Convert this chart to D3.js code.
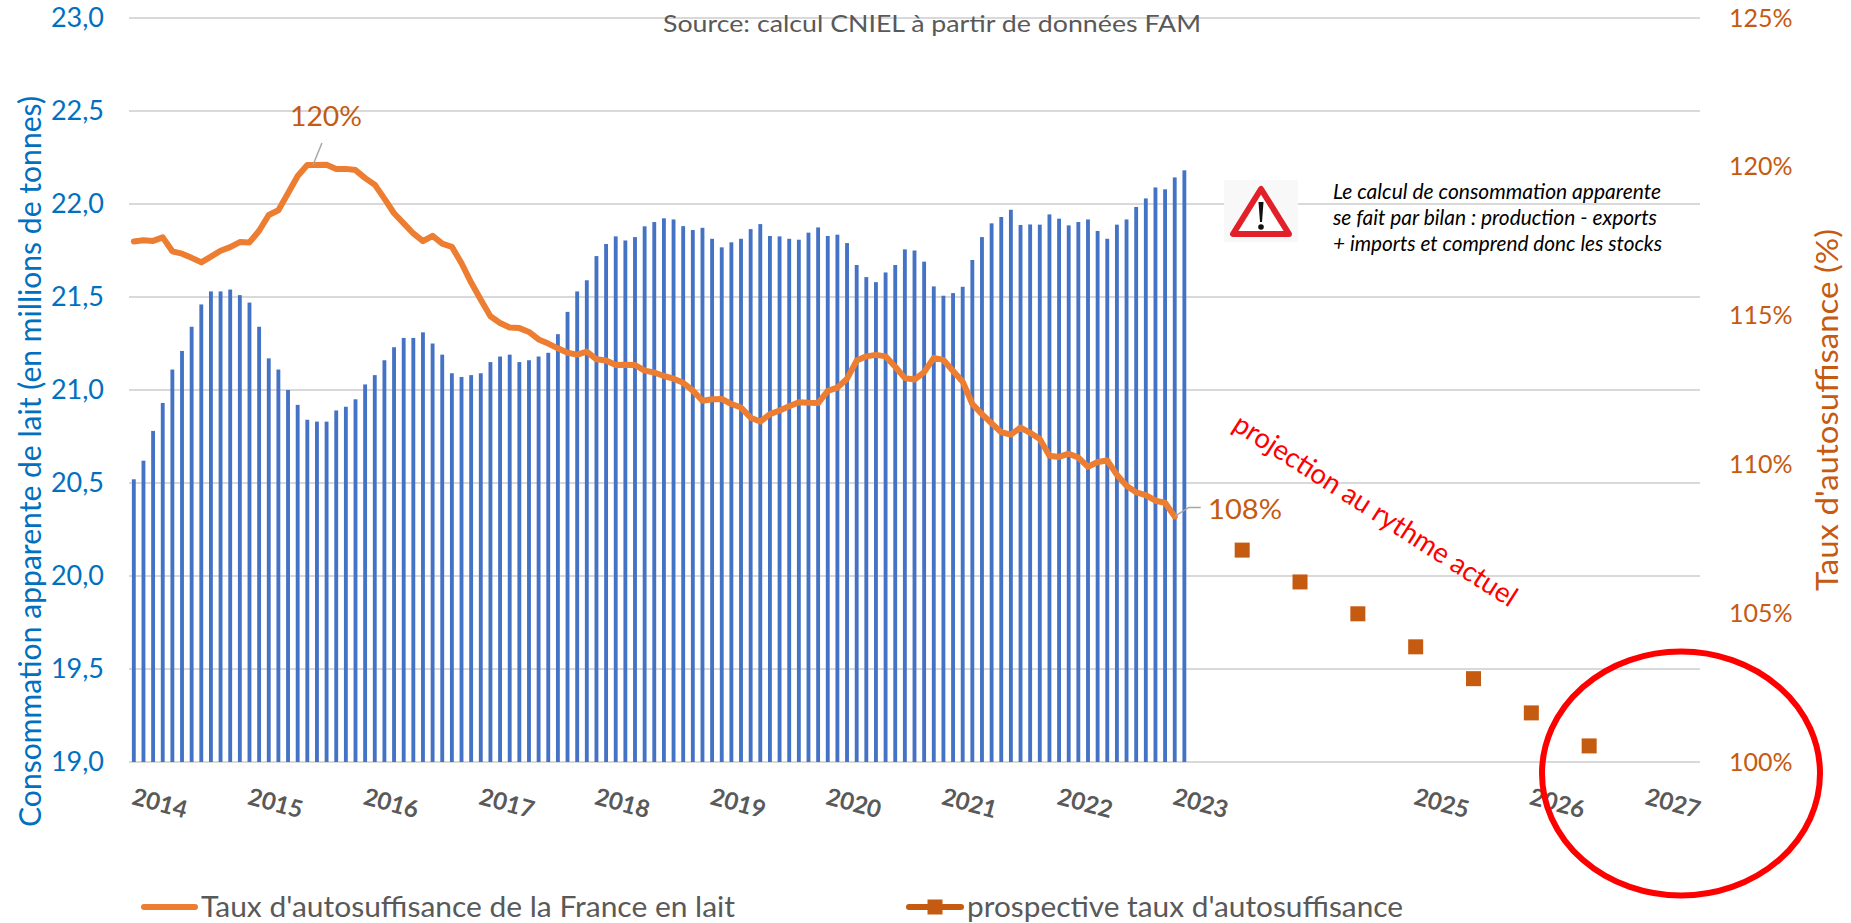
<!DOCTYPE html>
<html>
<head>
<meta charset="utf-8">
<script src="https://cdn.jsdelivr.net/npm/d3@7"></script>
<style>
  body { margin: 0; background: #fff; }
  svg { display: block; font-family: Lato, "Open Sans", sans-serif; }
</style>
</head>
<body>
<svg class="chart"></svg>
<script>
// consommation apparente, millions de tonnes (cumul mobile, un point par mois depuis 2014)
const consommation = [
  20.52, 20.62, 20.78, 20.93, 21.11, 21.21, 21.34, 21.46, 21.53, 21.53,
  21.54, 21.51, 21.47, 21.34, 21.17, 21.11, 21.00, 20.92, 20.84, 20.83,
  20.83, 20.89, 20.91, 20.95, 21.03, 21.08, 21.16, 21.23, 21.28, 21.28,
  21.31, 21.25, 21.19, 21.09, 21.07, 21.08, 21.09, 21.15, 21.18, 21.19,
  21.15, 21.16, 21.18, 21.20, 21.30, 21.42, 21.53, 21.59, 21.72, 21.785,
  21.826, 21.804, 21.822, 21.88, 21.903, 21.923, 21.917, 21.881, 21.86, 21.872,
  21.813, 21.767, 21.794, 21.813, 21.865, 21.892, 21.828, 21.826, 21.813, 21.808,
  21.846, 21.874, 21.828, 21.835, 21.79, 21.672, 21.607, 21.58, 21.632, 21.672,
  21.756, 21.75, 21.69, 21.557, 21.507, 21.521, 21.555, 21.699, 21.822, 21.896,
  21.93, 21.969, 21.887, 21.89, 21.889, 21.944, 21.921, 21.885, 21.903, 21.917,
  21.855, 21.813, 21.889, 21.917, 21.984, 22.03, 22.089, 22.079, 22.143, 22.181
];

// taux d'autosuffisance, %
const autosuffisance = [
  117.49, 117.53, 117.51, 117.63, 117.16, 117.08, 116.94, 116.79, 116.98, 117.18,
  117.30, 117.47, 117.46, 117.85, 118.38, 118.54, 119.11, 119.69, 120.06, 120.06,
  120.07, 119.93, 119.93, 119.89, 119.62, 119.40, 118.93, 118.44, 118.10, 117.76,
  117.50, 117.68, 117.42, 117.31, 116.76, 116.11, 115.53, 114.98, 114.75, 114.60,
  114.58, 114.45, 114.20, 114.06, 113.90, 113.75, 113.69, 113.79, 113.53, 113.49,
  113.34, 113.35, 113.34, 113.15, 113.09, 112.97, 112.88, 112.74, 112.48, 112.14,
  112.19, 112.20, 112.03, 111.91, 111.57, 111.44, 111.69, 111.81, 111.95, 112.09,
  112.07, 112.06, 112.47, 112.58, 112.88, 113.49, 113.63, 113.68, 113.63, 113.28,
  112.90, 112.85, 113.10, 113.58, 113.51, 113.14, 112.78, 112.03, 111.69, 111.38,
  111.08, 111.00, 111.24, 111.06, 110.85, 110.29, 110.25, 110.36, 110.23, 109.92,
  110.08, 110.13, 109.65, 109.28, 109.06, 108.97, 108.78, 108.71, 108.25
];

// projection : un point tous les 6 mois
const projectionMonths = [115, 121, 127, 133, 139, 145, 151];
const projectionValues = [107.12, 106.05, 104.98, 103.87, 102.8, 101.65, 100.54];

const yearLabels = ['2014', '2015', '2016', '2017', '2018', '2019', '2020', '2021', '2022', '2023', '2025', '2026', '2027'];
const yearMonths = [0, 12, 24, 36, 48, 60, 72, 84, 96, 108, 133, 145, 157];
const leftTicks = [19, 19.5, 20, 20.5, 21, 21.5, 22, 22.5, 23];
const rightTicks = [100, 105, 110, 115, 120, 125];
const noteLines = [
  'Le calcul de consommation apparente',
  'se fait par bilan : production - exports',
  '+ imports et comprend donc les stocks'
];

const width = 1851;
const height = 923;
const margin = {top: 18, right: 151, bottom: 161, left: 129};
const monthCount = 163;

const barBlue = '#4472C4';
const lineOrange = '#ED7D31';
const darkOrange = '#C55A11';
const axisBlue = '#0070C0';
const grey = '#595959';

const x = d3.scaleBand()
  .domain(d3.range(monthCount))
  .range([margin.left, width - margin.right])
  .paddingInner(0.6)
  .paddingOuter(0.3);
const xMid = (i) => x(i) + x.bandwidth() / 2;

const yLeft = d3.scaleLinear()
  .domain([19, 23])
  .range([height - margin.bottom, margin.top]);
const yRight = d3.scaleLinear()
  .domain([100, 125])
  .range([height - margin.bottom, margin.top]);

const svg = d3.select('.chart')
  .attr('width', width)
  .attr('height', height);

// grid
svg.append('g')
  .selectAll('line')
  .data(leftTicks)
  .join('line')
  .attr('x1', margin.left)
  .attr('x2', width - margin.right)
  .attr('y1', (d) => yLeft(d))
  .attr('y2', (d) => yLeft(d))
  .attr('stroke', '#D9D9D9')
  .attr('stroke-width', 1.8);

// axes
const xAxis = d3.axisBottom(x)
  .tickValues(yearMonths)
  .tickFormat((d) => yearLabels[yearMonths.indexOf(d)])
  .tickSize(0)
  .tickPadding(0);

const xG = svg.append('g')
  .attr('transform', 'translate(0,' + (height - margin.bottom) + ')')
  .call(xAxis);
xG.select('.domain').remove();
xG.selectAll('text')
  .attr('y', 0)
  .attr('dy', 0)
  .attr('text-anchor', 'start')
  .attr('transform', 'translate(-3,42) rotate(15)')
  .attr('font-family', 'Lato')
  .attr('font-size', 24)
  .attr('font-weight', 700)
  .attr('fill', grey);

const leftG = svg.append('g')
  .attr('transform', 'translate(' + margin.left + ',0)')
  .call(d3.axisLeft(yLeft)
    .tickValues(leftTicks)
    .tickFormat((d) => d.toFixed(1).replace('.', ','))
    .tickSize(0)
    .tickPadding(25));
leftG.select('.domain').remove();
leftG.selectAll('text')
  .attr('font-family', 'Lato')
  .attr('font-size', 27)
  .attr('fill', axisBlue);

const rightG = svg.append('g')
  .attr('transform', 'translate(' + (width - margin.right) + ',0)')
  .call(d3.axisRight(yRight)
    .tickValues(rightTicks)
    .tickFormat((d) => d + '%')
    .tickSize(0)
    .tickPadding(29));
rightG.select('.domain').remove();
rightG.selectAll('text')
  .attr('font-family', 'Lato')
  .attr('font-size', 25)
  .attr('fill', darkOrange);

// bars
svg.append('g')
  .selectAll('rect')
  .data(consommation)
  .join('rect')
  .attr('x', (d, i) => x(i))
  .attr('y', (d) => yLeft(d))
  .attr('width', x.bandwidth())
  .attr('height', (d) => yLeft(19) - yLeft(d))
  .attr('fill', barBlue);

// taux d'autosuffisance
const line = d3.line()
  .x((d, i) => xMid(i))
  .y((d) => yRight(d));

svg.append('path')
  .datum(autosuffisance)
  .attr('fill', 'none')
  .attr('stroke', lineOrange)
  .attr('stroke-width', 6)
  .attr('stroke-linejoin', 'round')
  .attr('stroke-linecap', 'round')
  .attr('d', line);

// projection
svg.append('g')
  .selectAll('rect')
  .data(projectionValues)
  .join('rect')
  .attr('x', (d, i) => xMid(projectionMonths[i]) - 7.5)
  .attr('y', (d) => yRight(d) - 7.5)
  .attr('width', 15)
  .attr('height', 15)
  .attr('fill', darkOrange);

// helper for one line of text squeezed to the width of the original
const label = (txt, px, py, size, color, fit) => {
  const t = svg.append('text')
    .attr('x', px)
    .attr('y', py)
    .attr('font-size', size)
    .attr('fill', color)
    .text(txt);
  if (fit) t.attr('textLength', fit).attr('lengthAdjust', 'spacingAndGlyphs');
  return t;
};

label('Source: calcul CNIEL à partir de données FAM', 663, 32, 24, grey, 538);

// axis titles
label('Consommation apparente de lait (en millions de tonnes)', 0, 0, 31, axisBlue, 731)
  .attr('transform', 'translate(41,827) rotate(-90)');
label("Taux d'autosuffisance (%)", 0, 0, 31, darkOrange, 362)
  .attr('transform', 'translate(1838,591) rotate(-90)');

// data labels with their leaders
const peak = 19;
const last = 108;
svg.append('path')
  .attr('fill', 'none')
  .attr('stroke', '#A6A6A6')
  .attr('stroke-width', 1.5)
  .attr('d', 'M' + (xMid(peak) - 4) + ',' + yRight(autosuffisance[peak]) + 'l9,-22');
svg.append('path')
  .attr('fill', 'none')
  .attr('stroke', '#A6A6A6')
  .attr('stroke-width', 1.5)
  .attr('d', 'M' + xMid(last) + ',' + yRight(autosuffisance[last]) + 'l14,-9h12');
label('120%', 290, 126, 27, darkOrange, 72);
label('108%', 1208, 519, 27, darkOrange, 74);

// note
svg.append('rect')
  .attr('x', 1224).attr('y', 180)
  .attr('width', 74).attr('height', 62)
  .attr('fill', '#F8F8F8');
svg.append('path')
  .attr('d', 'M1261,189L1233,234H1289Z')
  .attr('fill', '#fff')
  .attr('stroke', '#E1202A')
  .attr('stroke-width', 6)
  .attr('stroke-linejoin', 'round');
svg.append('path')
  .attr('d', 'M1258.5,202h5l-1.5,20h-2Z')
  .attr('fill', '#111');
svg.append('circle')
  .attr('cx', 1261).attr('cy', 227).attr('r', 2.8)
  .attr('fill', '#111');

noteLines.forEach((d, i) => {
  label(d, 1333, [199, 225, 251][i], 20.5, '#000', [328, 324, 329][i])
    .attr('font-style', 'italic');
});

label('projection au rythme actuel', 0, 0, 28, '#FF0000', 331)
  .attr('transform', 'translate(1231,429) rotate(32.7)');

svg.append('ellipse')
  .attr('cx', 1681).attr('cy', 773.5)
  .attr('rx', 139).attr('ry', 122)
  .attr('fill', 'none')
  .attr('stroke', '#FF0000')
  .attr('stroke-width', 6);

// legend
svg.append('line')
  .attr('x1', 144).attr('x2', 195)
  .attr('y1', 907).attr('y2', 907)
  .attr('stroke', lineOrange)
  .attr('stroke-width', 6)
  .attr('stroke-linecap', 'round');
label("Taux d'autosuffisance de la France en lait", 201, 917, 29, grey, 534);

svg.append('line')
  .attr('x1', 909).attr('x2', 961)
  .attr('y1', 907).attr('y2', 907)
  .attr('stroke', darkOrange)
  .attr('stroke-width', 6)
  .attr('stroke-linecap', 'round');
svg.append('rect')
  .attr('x', 927.5).attr('y', 899.5)
  .attr('width', 15).attr('height', 15)
  .attr('fill', darkOrange);
label("prospective taux d'autosuffisance", 967, 917, 29, grey, 436);
</script>
</body>
</html>
